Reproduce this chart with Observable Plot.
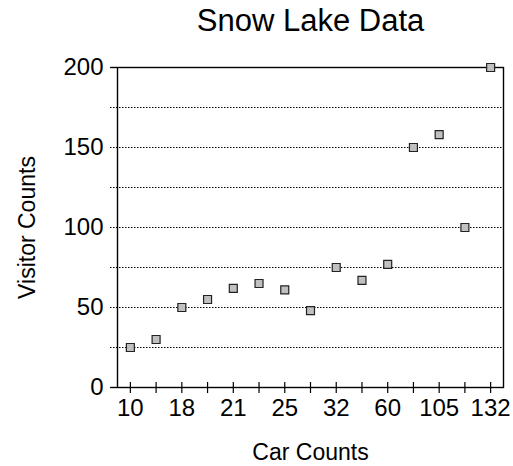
<!DOCTYPE html>
<html>
<head>
<meta charset="utf-8">
<script src="https://cdn.jsdelivr.net/npm/d3@7"></script>
<script src="https://cdn.jsdelivr.net/npm/@observablehq/plot@0.6"></script>
<style>
  html, body { margin: 0; padding: 0; background: white; overflow: hidden; }
  #chart svg { display: block; }
</style>
</head>
<body>
<div id="chart"></div>
<script>
const cars = ["10", "14", "18", "20", "21", "23", "25", "29", "32", "45", "60", "90", "105", "120", "132"];
const visitors = [25, 30, 50, 55, 62, 65, 61, 48, 75, 67, 77, 150, 158, 100, 200];
const labeledCars = cars.filter((d, i) => i % 2 === 0);
const yLabelTicks = [0, 50, 100, 150, 200];
const gridTicks = [25, 50, 75, 100, 125, 150, 175];
const solidTicks = [0, 200];
const title = "Snow Lake Data";
const xTitle = "Car Counts";
const yTitle = "Visitor Counts";

const data = cars.map((c, i) => ({car: c, visitors: visitors[i]}));
const font = "'Liberation Sans', Arial, Helvetica, sans-serif";

const chart = Plot.plot({
  width: 513,
  height: 466,
  marginLeft: 117,
  marginRight: 10,
  marginTop: 67,
  marginBottom: 79,
  style: {fontFamily: font, fontSize: "24px", background: "white", color: "black", overflow: "visible", maxWidth: "none"},
  x: {type: "point", domain: cars, padding: 0.5, round: false},
  y: {domain: [0, 200]},
  marks: [
    Plot.ruleY(gridTicks, {y: d => d, stroke: "black", strokeWidth: 1, strokeDasharray: "1.5,1.5", insetLeft: -7}),
    Plot.frame({stroke: "black", strokeWidth: 1.4}),
    Plot.axisY({ticks: solidTicks, tickSize: 7, tickFormat: () => "", label: null, strokeWidth: 1.4}),
    Plot.axisY({ticks: yLabelTicks, tickSize: 0, tickPadding: 14, label: null, fontSize: 24}),
    Plot.axisX({ticks: cars, tickSize: 11, dy: -5, tickFormat: () => "", label: null, strokeWidth: 1.2}),
    Plot.axisX({ticks: labeledCars, tickSize: 0, tickPadding: 11, label: null, fontSize: 24}),
    Plot.dot(data, {x: "car", y: "visitors", symbol: "square", r: 4.5, fill: "#c0c0c0", stroke: "#222", strokeWidth: 1.2}),
    Plot.text([title], {text: d => d, frameAnchor: "top", lineAnchor: "middle", dy: -46, fontSize: 31, fill: "black"}),
    Plot.text([xTitle], {text: d => d, frameAnchor: "bottom", lineAnchor: "middle", dy: 65, fontSize: 23, fill: "black"}),
    Plot.text([yTitle], {text: d => d, frameAnchor: "left", textAnchor: "middle", dx: -90, rotate: -90, fontSize: 23, fill: "black"})
  ]
});
document.getElementById("chart").appendChild(chart);
</script>
</body>
</html>
